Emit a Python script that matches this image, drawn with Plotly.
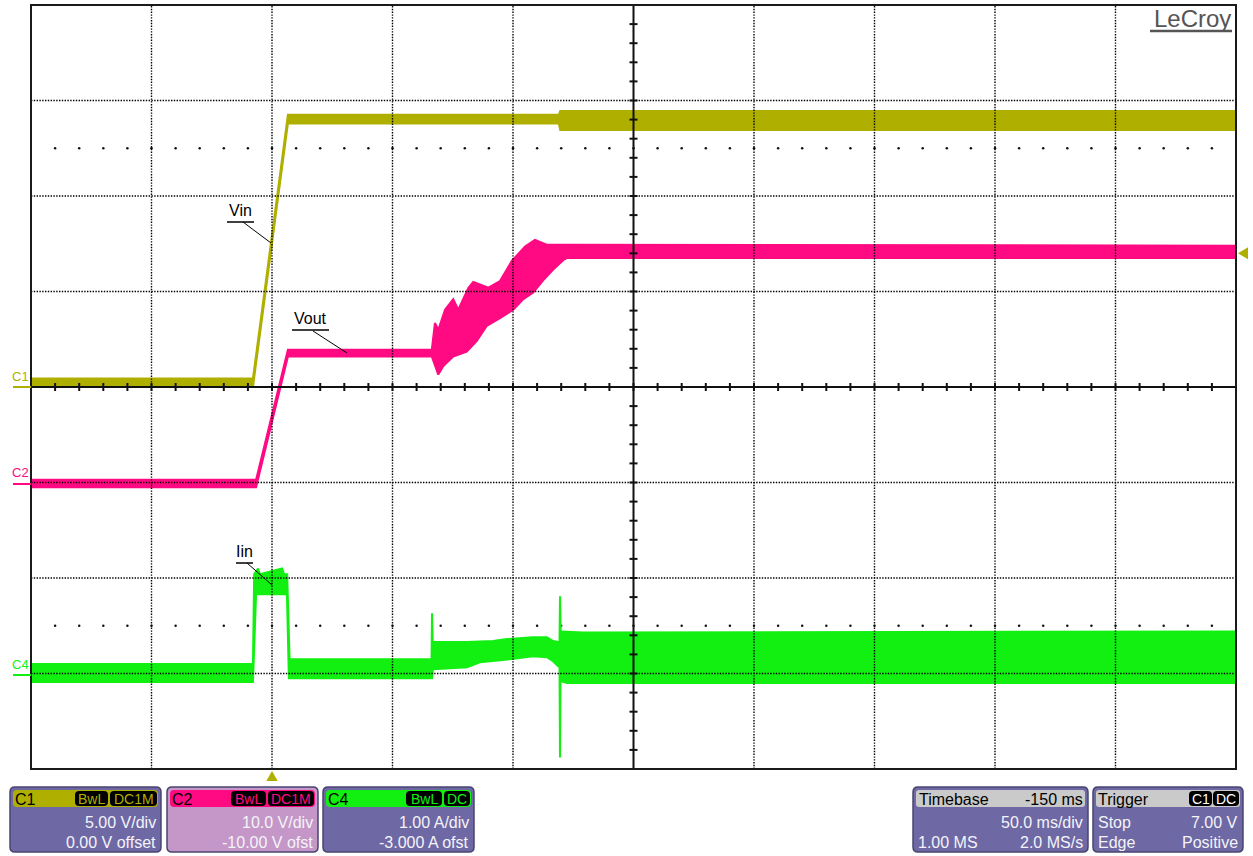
import plotly.graph_objects as go

# ---------------- acquisition settings ----------------
T_LEFT, T_RIGHT = -100.0, 400.0        # ms (50 ms/div, trigger at 0)
T_DIV = 50.0
N_DIV_Y = 4                             # +/- divisions from centre

C1_SCALE, C1_OFFSET = 5.0, 0.0          # V/div, V
C2_SCALE, C2_OFFSET = 10.0, -10.0       # V/div, V
C4_SCALE, C4_OFFSET = 1.0, -3.0         # A/div, A
TRIG_LEVEL = 7.0                        # V on C1

C1_COLOR = "#AFAF00"
C2_COLOR = "#FF0A82"
C4_COLOR = "#12F012"

# ---------------- captured waveforms (upper / lower envelope) ----------------
# C1 : Vin [V]
vin_t = [-100.0, -7.9, 6.6, 119.0, 119.6, 400.0]
vin_hi = [0.45, 0.45, 14.25, 14.25, 14.45, 14.45]
vin_lo = [0.0, 0.0, 13.8, 13.8, 13.45, 13.45]

# C2 : Vout [V]
vout_t_hi = [-100.0, -6.6, 6.6, 66.3, 67.6, 69.0, 71.8, 75.2, 77.3, 81.5, 83.5,
             89.8, 94.6, 99.5, 105.0, 109.1, 114.0, 122.3, 400.0]
vout_hi = [0.3, 0.3, 13.9, 13.9, 16.7, 16.0, 18.1, 19.2, 18.1, 20.4, 21.0,
           20.4, 21.1, 23.2, 24.7, 25.4, 24.9, 24.9, 24.8]
vout_t_lo = [-100.0, -6.6, 6.6, 66.3, 69.0, 71.1, 75.2, 80.8, 84.9, 89.1, 94.6,
             100.1, 104.3, 108.4, 112.6, 116.7, 120.9, 122.3, 400.0]
vout_lo = [-0.5, -0.5, 13.2, 13.2, 11.3, 12.2, 13.2, 13.7, 14.8, 16.4, 17.2,
           18.1, 19.2, 19.9, 21.2, 22.3, 23.3, 23.5, 23.5]

# C4 : Iin [A]
iin_t_hi = [-100.0, -7.9, -7.4, -5.8, -5.0, 4.2, 5.0, 6.3, 7.3, 66.2, 66.4, 66.7,
            80.9, 91.7, 97.5, 108.3, 114.1, 116.6, 118.7, 119.3, 119.5, 119.8,
            120.3, 129.0, 400.0]
iin_hi = [0.10, 0.10, 1.04, 1.10, 1.04, 1.10, 1.04, 1.04, 0.15, 0.15, 0.63, 0.33,
          0.33, 0.34, 0.36, 0.38, 0.38, 0.34, 0.33, 0.33, 0.81, 0.44,
          0.44, 0.43, 0.44]
iin_t_lo = [-100.0, -7.9, -6.6, 6.2, 7.0, 66.4, 66.8, 80.9, 86.3, 98.7, 108.3,
            114.1, 116.6, 118.7, 119.3, 119.5, 119.7, 122.4, 400.0]
iin_lo = [-0.09, -0.09, 0.83, 0.83, -0.05, -0.05, 0.045, 0.066, 0.118, 0.150, 0.181,
          0.171, 0.129, 0.076, 0.07, -0.88, -0.08, -0.10, -0.10]

# ---------------- page geometry (pixels) ----------------
W, H = 1253, 856
L, R, T, B = 31, 1236, 5, 769           # plot frame

def px(x):
    return (x - L) / (R - L)

def py(y):
    return (B - y) / (B - T)

def chan_range(scale, offset):
    return [-N_DIV_Y * scale - offset, N_DIV_Y * scale - offset]

FONT = "Liberation Sans, Arial, sans-serif"

fig = go.Figure()

def band(t_hi, hi, t_lo, lo, color, yaxis):
    return go.Scatter(
        x=list(t_hi) + list(t_lo)[::-1],
        y=list(hi) + list(lo)[::-1],
        mode="lines", fill="toself", fillcolor=color,
        line=dict(color=color, width=2),
        yaxis=yaxis, hoverinfo="skip", showlegend=False)

fig.add_trace(band(iin_t_hi, iin_hi, iin_t_lo, iin_lo, C4_COLOR, "y4"))
fig.add_trace(band(vout_t_hi, vout_hi, vout_t_lo, vout_lo, C2_COLOR, "y3"))
fig.add_trace(band(vin_t, vin_hi, vin_t, vin_lo, C1_COLOR, "y2"))

# dotted rows at +/- 2.5 div
dot_t = [T_LEFT + k * T_DIV / 5 for k in range(1, 50)]
for row in (2.5, -2.5):
    fig.add_trace(go.Scatter(x=dot_t, y=[row] * len(dot_t), mode="markers",
                             marker=dict(size=2.5, color="#111"), yaxis="y",
                             hoverinfo="skip", showlegend=False))

shapes = []
DOT = dict(color="#000", width=1.4, dash="1.4px,1.4px")
t_center = (T_LEFT + T_RIGHT) / 2
for i in range(1, 10):
    t = T_LEFT + i * T_DIV
    if t == t_center:
        continue
    shapes.append(dict(type="line", xref="x", yref="y", x0=t, x1=t, y0=-N_DIV_Y,
                       y1=N_DIV_Y, line=DOT, layer="above"))
for j in range(-N_DIV_Y + 1, N_DIV_Y):
    if j == 0:
        continue
    shapes.append(dict(type="line", xref="x", yref="y", x0=T_LEFT, x1=T_RIGHT,
                       y0=j, y1=j, line=DOT, layer="above"))

# centre cross-hair with minor ticks
SOLID = dict(color="#111", width=2)
shapes.append(dict(type="line", xref="x", yref="y", x0=t_center, x1=t_center,
                   y0=-N_DIV_Y, y1=N_DIV_Y, line=SOLID, layer="above"))
shapes.append(dict(type="line", xref="x", yref="y", x0=T_LEFT, x1=T_RIGHT,
                   y0=0, y1=0, line=SOLID, layer="above"))
tick_dx = 4 * T_DIV / 120.5
tick_dy = 4 / 95.5
for k in range(-5 * N_DIV_Y + 1, 5 * N_DIV_Y):
    y = k / 5
    shapes.append(dict(type="line", xref="x", yref="y", x0=t_center - tick_dx,
                       x1=t_center + tick_dx, y0=y, y1=y,
                       line=dict(color="#111", width=2), layer="above"))
for k in range(1, 50):
    t = T_LEFT + k * T_DIV / 5
    shapes.append(dict(type="line", xref="x", yref="y", x0=t, x1=t,
                       y0=-tick_dy, y1=tick_dy,
                       line=dict(color="#111", width=2), layer="above"))

# frame
shapes.append(dict(type="rect", xref="paper", yref="paper", x0=0, x1=1, y0=0, y1=1,
                   line=dict(color="#1a1a1a", width=2), layer="above"))

annotations = []

def text(x, y, s, color="#000", size=16, anchor="left", yanchor="middle"):
    annotations.append(dict(xref="paper", yref="paper", x=px(x), y=py(y), text=s,
                            showarrow=False, xanchor=anchor, yanchor=yanchor,
                            font=dict(family=FONT, size=size, color=color)))

def pline(x0, y0, x1, y1, color="#000", width=1):
    shapes.append(dict(type="line", xref="paper", yref="paper", x0=px(x0), y0=py(y0),
                       x1=px(x1), y1=py(y1), line=dict(color=color, width=width),
                       layer="above"))

def rrect(x0, y0, x1, y1, r, fill, line="rgba(0,0,0,0)", lw=0):
    pts = (f"M {px(x0 + r)},{py(y0)} L {px(x1 - r)},{py(y0)} "
           f"Q {px(x1)},{py(y0)} {px(x1)},{py(y0 + r)} "
           f"L {px(x1)},{py(y1 - r)} Q {px(x1)},{py(y1)} {px(x1 - r)},{py(y1)} "
           f"L {px(x0 + r)},{py(y1)} Q {px(x0)},{py(y1)} {px(x0)},{py(y1 - r)} "
           f"L {px(x0)},{py(y0 + r)} Q {px(x0)},{py(y0)} {px(x0 + r)},{py(y0)} Z")
    shapes.append(dict(type="path", xref="paper", yref="paper", path=pts,
                       fillcolor=fill, line=dict(color=line, width=lw), layer="above"))

# trace labels with leader lines
def label(x, y, s, ul0, ul1, uly, lx0, ly0, lx1, ly1):
    text(x, y, s, size=16, anchor="center")
    pline(ul0, uly, ul1, uly, width=1.5)
    pline(lx0, ly0, lx1, ly1, width=1)

label(240, 210, "Vin", 227, 254, 222, 243, 222, 271, 243)
label(310, 319, "Vout", 292, 329, 330, 313, 331, 347, 353)
label(244, 551, "Iin", 236, 253, 563, 247, 563, 272, 585)

# brand
text(1233, 18, "LeCroy", color="#555", size=24, anchor="right")
pline(1150, 31, 1232, 31, color="#555", width=2.5)

# channel ground markers on the left
for name, color, y in (("C1", C1_COLOR, 387), ("C2", C2_COLOR, 484),
                       ("C4", C4_COLOR, 675)):
    text(10, y - 11, name, color=color, size=13)
    pline(13, y, 31, y, color=color, width=2)

# trigger position / level markers
shapes.append(dict(type="path", xref="x", yref="paper",
                   path=f"M -2.4,{py(781)} L 2.4,{py(781)} L 0,{py(771)} Z",
                   fillcolor=C1_COLOR, line=dict(width=0), layer="above"))
lvl_h = 6 / 95.5 * C1_SCALE
shapes.append(dict(type="path", xref="paper", yref="y2",
                   path=(f"M {px(1238)},{TRIG_LEVEL} L {px(1248)},{TRIG_LEVEL + lvl_h} "
                         f"L {px(1248)},{TRIG_LEVEL - lvl_h} Z"),
                   fillcolor=C1_COLOR, line=dict(width=0), layer="above"))

# ---------------- readout boxes ----------------
BODY = "#6E68A5"
BODY_C2 = "#C497C8"
EDGE = "#48446f"
TXT = "#F4F4F8"

def pill(x0, x1, s, color):
    rrect(x0, 791, x1, 806, 4, "#000")
    text((x0 + x1) / 2, 799, s, color=color, size=14, anchor="center")

def chan_box(x0, x1, name, color, body, pills, l1, l2):
    rrect(x0, 787, x1, 852, 5, body, EDGE, 1.5)
    rrect(x0 + 3, 790, x1 - 3, 807, 4, color)
    text(x0 + 3, 799, name, size=16)
    for a, b, s in pills:
        pill(a, b, s, color)
    text(x1 - 3, 822, l1, color=TXT, size=16, anchor="right")
    text(x1 - 3, 842, l2, color=TXT, size=16, anchor="right")

chan_box(10, 161, "C1", C1_COLOR, BODY, [(75, 108, "BwL"), (110, 157, "DC1M")],
         f"{C1_SCALE:.2f} V/div", f"{C1_OFFSET:.2f} V offset")
chan_box(167, 318, "C2", C2_COLOR, BODY_C2, [(231, 266, "BwL"), (268, 314, "DC1M")],
         f"{C2_SCALE:.1f} V/div", f"{C2_OFFSET:.2f} V ofst")
chan_box(323, 474, "C4", C4_COLOR, BODY, [(406, 442, "BwL"), (444, 470, "DC")],
         f"{C4_SCALE:.2f} A/div", f"{C4_OFFSET:.3f} A ofst")

# timebase
rrect(913, 787, 1088, 852, 5, BODY, EDGE, 1.5)
rrect(916, 790, 1085, 807, 3, "#CACACA")
text(917, 799, "Timebase")
text(1085, 799, "-150 ms", anchor="right")
text(1085, 822, f"{T_DIV:.1f} ms/div", color=TXT, anchor="right")
text(916, 842, "1.00 MS", color=TXT)
text(1085, 842, "2.0 MS/s", color=TXT, anchor="right")

# trigger
rrect(1093, 787, 1243, 852, 5, BODY, EDGE, 1.5)
rrect(1096, 790, 1240, 807, 3, "#CACACA")
text(1096, 799, "Trigger")
pill(1189, 1212, "C1", "#fff")
pill(1213, 1239, "DC", "#fff")
text(1096, 822, "Stop", color=TXT)
text(1240, 822, f"{TRIG_LEVEL:.2f} V", color=TXT, anchor="right")
text(1096, 842, "Edge", color=TXT)
text(1240, 842, "Positive", color=TXT, anchor="right")

hidden = dict(visible=False, showgrid=False, zeroline=False, fixedrange=True)
fig.update_layout(
    width=W, height=H,
    margin=dict(l=L, r=W - R, t=T, b=H - B, pad=0),
    paper_bgcolor="white", plot_bgcolor="white",
    showlegend=False,
    xaxis=dict(range=[T_LEFT, T_RIGHT], **hidden),
    yaxis=dict(range=[-N_DIV_Y, N_DIV_Y], **hidden),
    yaxis2=dict(range=chan_range(C1_SCALE, C1_OFFSET), overlaying="y", **hidden),
    yaxis3=dict(range=chan_range(C2_SCALE, C2_OFFSET), overlaying="y", **hidden),
    yaxis4=dict(range=chan_range(C4_SCALE, C4_OFFSET), overlaying="y", **hidden),
    shapes=shapes,
    annotations=annotations,
)

fig.write_html("out.html")
